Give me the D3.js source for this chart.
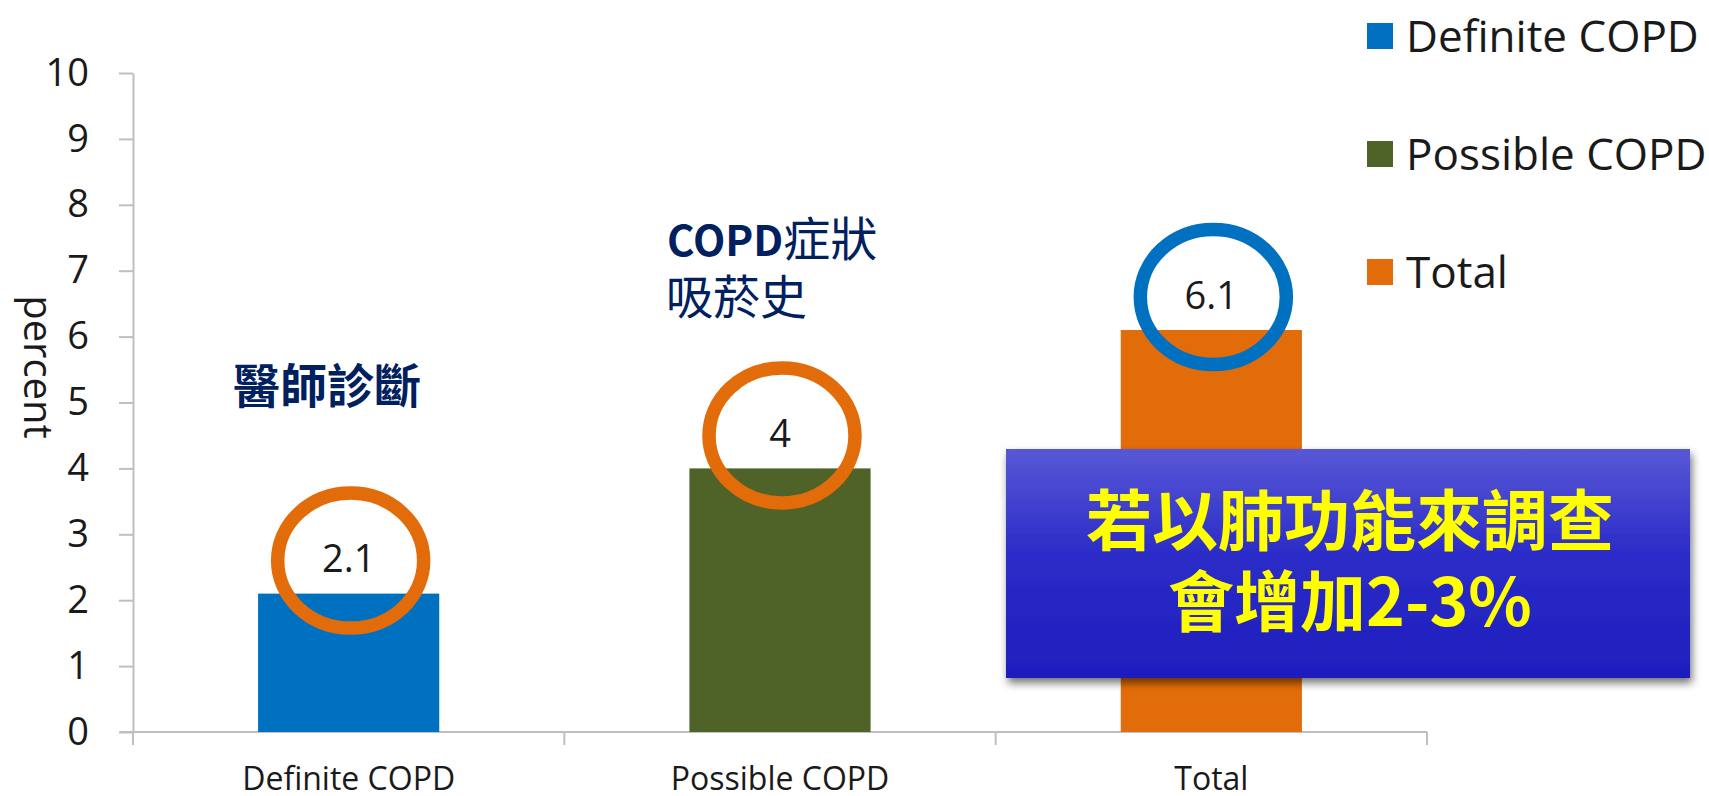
<!DOCTYPE html>
<html>
<head>
<meta charset="utf-8">
<script src="https://cdn.jsdelivr.net/npm/d3@7"></script>
<style>
  html, body { margin: 0; padding: 0; background: #fff; }
  svg { display: block; }
</style>
</head>
<body>
<svg id="chart" width="1709" height="796"></svg>
<script>
// Prevalence of COPD (percent)
const categories = ["Definite COPD", "Possible COPD", "Total"];
const values = [2.1, 4, 6.1];
const barColors = ["#0070C0", "#4F6228", "#E36C0A"];
const ringColors = ["#E36C0A", "#E36C0A", "#0070C0"];
const yTicks = [0, 1, 2, 3, 4, 5, 6, 7, 8, 9, 10];
const yTitle = "percent";
const noteDoctor = ["醫師診斷"];
const noteSymptom = ["COPD", "症狀", "吸菸史"];
const calloutLines = ["若以肺功能來調查", "會增加2-3%"];

const svg = d3.select("#chart");
const plot = { left: 133, right: 1427, top: 73, bottom: 732 };
const latin = "'Open Sans', 'DejaVu Sans', sans-serif";
const cjk = "'Noto Sans CJK TC', 'Noto Sans CJK SC', sans-serif";

const x = d3.scaleBand()
  .domain(categories)
  .range([plot.left, plot.right])
  .paddingInner(0.58)
  .paddingOuter(0.29);

const y = d3.scaleLinear()
  .domain([0, 10])
  .range([plot.bottom, plot.top]);

const axisColor = "#BFBFBF";

// Y axis
const yAxis = svg.append("g")
  .attr("transform", `translate(${plot.left},0)`)
  .call(d3.axisLeft(y).tickValues(yTicks).tickSize(14).tickPadding(30).tickSizeOuter(0));
yAxis.select(".domain").attr("stroke", axisColor).attr("stroke-width", 2);
yAxis.selectAll(".tick line").attr("stroke", axisColor).attr("stroke-width", 2);
yAxis.selectAll(".tick text")
  .attr("fill", "#1a1a1a")
  .style("font-family", latin)
  .style("font-size", "38px");

// Y title
svg.append("text")
  .attr("transform", "translate(36,367) rotate(90)")
  .attr("text-anchor", "middle")
  .attr("dy", "0.3em")
  .style("font-family", latin)
  .style("font-size", "40px")
  .attr("fill", "#1a1a1a")
  .text(yTitle);

// X axis line with category separators
const step = x.step();
svg.append("line")
  .attr("x1", plot.left - 13).attr("x2", plot.right)
  .attr("y1", y(0)).attr("y2", y(0))
  .attr("stroke", axisColor).attr("stroke-width", 2);
svg.selectAll(".xsep")
  .data(d3.range(categories.length + 1))
  .join("line")
  .attr("x1", i => plot.left + i * step)
  .attr("x2", i => plot.left + i * step)
  .attr("y1", y(0)).attr("y2", y(0) + 13)
  .attr("stroke", axisColor).attr("stroke-width", 2);

svg.selectAll(".xlabel")
  .data(categories)
  .join("text")
  .attr("x", d => x(d) + x.bandwidth() / 2)
  .attr("y", 779)
  .attr("dy", "0.35em")
  .attr("text-anchor", "middle")
  .style("font-family", latin)
  .style("font-size", "32px")
  .attr("fill", "#1a1a1a")
  .text(d => d);

// Bars
svg.selectAll(".bar")
  .data(categories)
  .join("rect")
  .attr("x", d => x(d))
  .attr("width", x.bandwidth())
  .attr("y", (d, i) => y(values[i]))
  .attr("height", (d, i) => y(0) - y(values[i]))
  .attr("fill", (d, i) => barColors[i]);

// Value labels and highlight rings
const labelOffset = 35;
svg.selectAll(".vlabel")
  .data(categories)
  .join("text")
  .attr("x", d => x(d) + x.bandwidth() / 2)
  .attr("y", (d, i) => y(values[i]) - labelOffset)
  .attr("dy", "0.36em")
  .attr("text-anchor", "middle")
  .style("font-family", latin)
  .style("font-size", "38px")
  .attr("fill", "#1a1a1a")
  .text((d, i) => values[i]);

svg.selectAll(".ring")
  .data(categories)
  .join("ellipse")
  .attr("cx", d => x(d) + x.bandwidth() / 2 + 2)
  .attr("cy", (d, i) => y(values[i]) - labelOffset + 2)
  .attr("rx", 73)
  .attr("ry", 67.5)
  .attr("fill", "none")
  .attr("stroke", (d, i) => ringColors[i])
  .attr("stroke-width", 13.5);

// Legend
const legendRows = svg.append("g").selectAll("g")
  .data(categories)
  .join("g")
  .attr("transform", (d, i) => `translate(1367,${36 + i * 118})`);
legendRows.append("rect")
  .attr("x", 0).attr("y", -13)
  .attr("width", 26).attr("height", 26)
  .attr("fill", (d, i) => barColors[i]);
legendRows.append("text")
  .attr("x", 39)
  .attr("dy", "0.36em")
  .style("font-family", latin)
  .style("font-size", "44px")
  .attr("fill", "#1a1a1a")
  .text(d => d);

// Annotations
const navy = "#002060";
svg.append("text")
  .attr("x", 233).attr("y", 403)
  .style("font-family", cjk)
  .style("font-size", "47px")
  .style("font-weight", 700)
  .attr("fill", navy)
  .text(noteDoctor[0]);

const sym = svg.append("text")
  .style("font-family", cjk)
  .style("font-size", "47px")
  .attr("fill", navy);
sym.append("tspan").attr("x", 667).attr("y", 256)
  .style("font-weight", 700).style("font-size", "42px").text(noteSymptom[0]);
sym.append("tspan").text(noteSymptom[1]);
sym.append("tspan").attr("x", 666).attr("y", 314).text(noteSymptom[2]);

// Call-out box
const defs = svg.append("defs");
const grad = defs.append("linearGradient")
  .attr("id", "boxFill").attr("x1", 0).attr("x2", 0).attr("y1", 0).attr("y2", 1);
grad.append("stop").attr("offset", "0%").attr("stop-color", "#5858D6");
grad.append("stop").attr("offset", "45%").attr("stop-color", "#2C2CC8");
grad.append("stop").attr("offset", "100%").attr("stop-color", "#1E1EBE");
const shadow = defs.append("filter").attr("id", "boxShadow")
  .attr("x", "-5%").attr("y", "-5%").attr("width", "115%").attr("height", "125%");
shadow.append("feDropShadow")
  .attr("dx", 2).attr("dy", 5).attr("stdDeviation", 4)
  .attr("flood-color", "#000").attr("flood-opacity", 0.55);

const box = { x: 1006, y: 449, w: 684, h: 229 };
svg.append("rect")
  .attr("x", box.x).attr("y", box.y)
  .attr("width", box.w).attr("height", box.h)
  .attr("fill", "url(#boxFill)")
  .attr("filter", "url(#boxShadow)");

svg.selectAll(".callout")
  .data(calloutLines)
  .join("text")
  .attr("x", box.x + box.w / 2 + 2)
  .attr("y", (d, i) => 521 + i * 81)
  .attr("dy", "0.36em")
  .attr("text-anchor", "middle")
  .style("font-family", cjk)
  .style("font-size", "66px")
  .style("font-weight", 700)
  .attr("fill", "#FFFF00")
  .text(d => d);
</script>
</body>
</html>
